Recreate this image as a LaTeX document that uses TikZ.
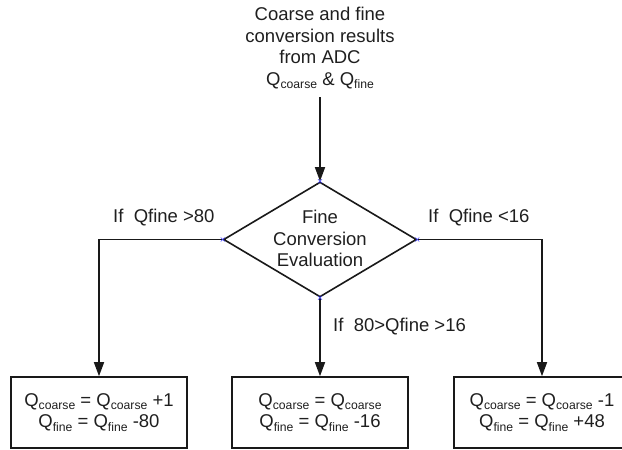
\documentclass[tikz,border=0pt]{standalone}
\usepackage{fontspec}
\setmainfont{Liberation Sans}
\usetikzlibrary{shapes.geometric,arrows.meta}
% Q with a lowered, smaller subscript
\newcommand\qsub[1]{Q\raisebox{-3.5pt}{\fontsize{12.2}{12.2}\selectfont #1}}
\begin{document}
\begin{tikzpicture}[x=1pt,y=-1pt,
  every node/.style={font=\fontsize{18.5}{21.5}\selectfont, text=black!88, inner sep=0pt},
  conn/.style={line width=1.6pt, draw=black!90},
  flow/.style={conn, -{Triangle[length=14pt,width=10pt]}},
  decision/.style={diamond, draw=black!90, line width=1.6pt, minimum width=193pt, minimum height=115pt},
  actionbox/.style={rectangle, draw=black!90, line width=1.6pt, minimum width=176pt, minimum height=71pt, align=center},
  caption/.style={align=center},
  vtxmark/.style={draw=blue!75, line width=0.5pt}]
\useasboundingbox (0,0) rectangle (622,450);
\clip (0,0) rectangle (622,450);

% source of the data
\node[caption] (src) at (320,48) {Coarse and fine\\conversion results\\from ADC\\\qsub{coarse} \& \qsub{fine}};
\coordinate (srcfoot) at (320,97);

% decision
\node[decision] (dec) at (320,239.5) {};
\node[caption] (dectext) at (320,238.5) {Fine\\Conversion\\Evaluation};

% corrective actions
\node[actionbox] (lo) at (99,412.5) {\qsub{coarse} = \qsub{coarse} +1\\\qsub{fine} = \qsub{fine} -80};
\node[actionbox] (mid) at (320,412.5) {\qsub{coarse} = \qsub{coarse}\\\qsub{fine} = \qsub{fine} -16};
\node[actionbox] (hi) at (542,412.5) {\qsub{coarse} = \qsub{coarse} -1\\\qsub{fine} = \qsub{fine} +48};

% connectors
\draw[flow] (srcfoot) -- (dec.north);
\draw[flow] (dec.west) -| (lo.north);
\draw[flow] (dec.east) -| (hi.north);
\draw[flow] (dec.south) -- (mid.north);

% branch conditions
\node[anchor=base west] (condhi) at (113,222) {If\ \ Qfine >80};
\node[anchor=base west] (condlo) at (428,222) {If\ \ Qfine <16};
\node[anchor=base west] (condmid) at (333,331.5) {If\ \ 80>Qfine >16};

% connection points on the diamond
\foreach \a in {north,south,east,west}
  \draw[vtxmark] ([shift={(-2,-2)}]dec.\a) -- ++(4,4) ([shift={(-2,2)}]dec.\a) -- ++(4,-4);
\end{tikzpicture}
\end{document}
